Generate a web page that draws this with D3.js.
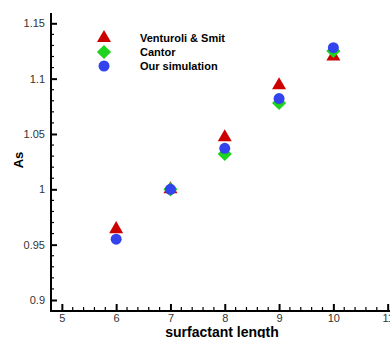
<!DOCTYPE html>
<html>
<head>
<meta charset="utf-8">
<script src="https://cdn.jsdelivr.net/npm/d3@7"></script>
<style>
  body { margin: 0; background: #fff; }
  svg { display: block; font-family: Arial, "Liberation Sans", sans-serif; }
</style>
</head>
<body>
<div id="chart"></div>
<script>
const lengths = [6, 7, 8, 9, 10];
const venturoli = [0.964, 1.0, 1.047, 1.094, 1.12];
const cantorX = [7, 8, 9, 10];
const cantor = [1.0, 1.032, 1.078, 1.125];
const ourSim = [0.955, 1.0, 1.037, 1.082, 1.128];
const xTicks = [5, 6, 7, 8, 9, 10, 11];
const yTicks = [0.9, 0.95, 1, 1.05, 1.1, 1.15];
const legendNames = ["Venturoli & Smit", "Cantor", "Our simulation"];

const width = 390, height = 338;
const axLeft = 51, axBottom = 311, axTop = 13;

const svg = d3.select("#chart").append("svg")
  .attr("width", width).attr("height", height);

// scales
const x = d3.scaleLinear().domain([4.8, 11.2]).range([axLeft, axLeft + 6.4 * 54.3]);
const y = d3.scaleLinear().domain([0.9, 1.15]).range([300, 23.3]);

// minor ticks
const xMinor = d3.range(4.8, 11.21, 0.2).filter(v => Math.abs(v - Math.round(v)) > 0.01 && v > 4.85);
const yMinor = d3.range(0.89, 1.16, 0.01).filter(v => Math.abs(v * 20 - Math.round(v * 20)) > 0.01 && y(v) < axBottom - 1 && y(v) > axTop);

// x axis
const gx = svg.append("g").attr("transform", `translate(0,${axBottom})`);
gx.call(d3.axisBottom(x).tickValues(xTicks).tickSize(-7).tickPadding(3).tickFormat(d3.format("d")))
gx.select(".domain").remove();
gx.selectAll(".tick line").attr("stroke", "#000").attr("stroke-width", 2);
gx.selectAll(".tick text").attr("font-size", 11).attr("fill", "#333");
gx.selectAll(".minor").data(xMinor).join("line")
  .attr("x1", d => x(d)).attr("x2", d => x(d))
  .attr("y1", 0).attr("y2", -4)
  .attr("stroke", "#000").attr("stroke-width", 1.2);

// y axis
const gy = svg.append("g").attr("transform", `translate(${axLeft},0)`);
gy.call(d3.axisLeft(y).tickValues(yTicks).tickSize(-6).tickPadding(6).tickFormat(d => d3.format("")(d)));
gy.select(".domain").remove();
gy.selectAll(".tick line").attr("stroke", "#000").attr("stroke-width", 2);
gy.selectAll(".tick text").attr("font-size", 11).attr("fill", "#333");
gy.selectAll(".minor").data(yMinor).join("line")
  .attr("x1", 0).attr("x2", 3)
  .attr("y1", d => y(d)).attr("y2", d => y(d))
  .attr("stroke", "#000").attr("stroke-width", 1.2);

// axis lines
svg.append("path")
  .attr("d", `M${axLeft},${axTop}V${axBottom}H${width}`)
  .attr("fill", "none").attr("stroke", "#000").attr("stroke-width", 2);

// axis titles
svg.append("text")
  .attr("transform", "translate(23,160) rotate(-90)")
  .attr("text-anchor", "middle")
  .attr("font-size", 13).attr("font-weight", "bold")
  .text("As");
svg.append("text")
  .attr("x", 222).attr("y", 337)
  .attr("text-anchor", "middle")
  .attr("font-size", 14).attr("font-weight", "bold")
  .text("surfactant length");

const red = "#cc0000", green = "#1fd21f", blue = "#3344ee";
const tri = d3.symbol().type(d3.symbolTriangle).size(85);
const dia = d3.symbol().type(d3.symbolSquare).size(100);

// series
svg.append("g").selectAll("path").data(lengths.map((l, i) => [l, venturoli[i]])).join("path")
  .attr("d", tri)
  .attr("transform", d => `translate(${x(d[0])},${y(d[1])})`)
  .attr("fill", red);
svg.append("g").selectAll("path").data(cantorX.map((l, i) => [l, cantor[i]])).join("path")
  .attr("d", dia)
  .attr("transform", d => `translate(${x(d[0])},${y(d[1])}) rotate(45)`)
  .attr("fill", green);
svg.append("g").selectAll("circle").data(lengths.map((l, i) => [l, ourSim[i]])).join("circle")
  .attr("cx", d => x(d[0])).attr("cy", d => y(d[1])).attr("r", 5.5)
  .attr("fill", blue);

// legend
const lg = svg.append("g");
lg.append("path").attr("d", tri).attr("transform", "translate(104,38)").attr("fill", red);
lg.append("path").attr("d", dia).attr("transform", "translate(104,52) rotate(45)").attr("fill", green);
lg.append("circle").attr("cx", 104).attr("cy", 66).attr("r", 5.5).attr("fill", blue);
lg.selectAll("text").data(legendNames).join("text")
  .attr("x", 140).attr("y", (d, i) => 42 + i * 14)
  .attr("font-size", 11).attr("font-weight", "bold")
  .text(d => d);
</script>
</body>
</html>
